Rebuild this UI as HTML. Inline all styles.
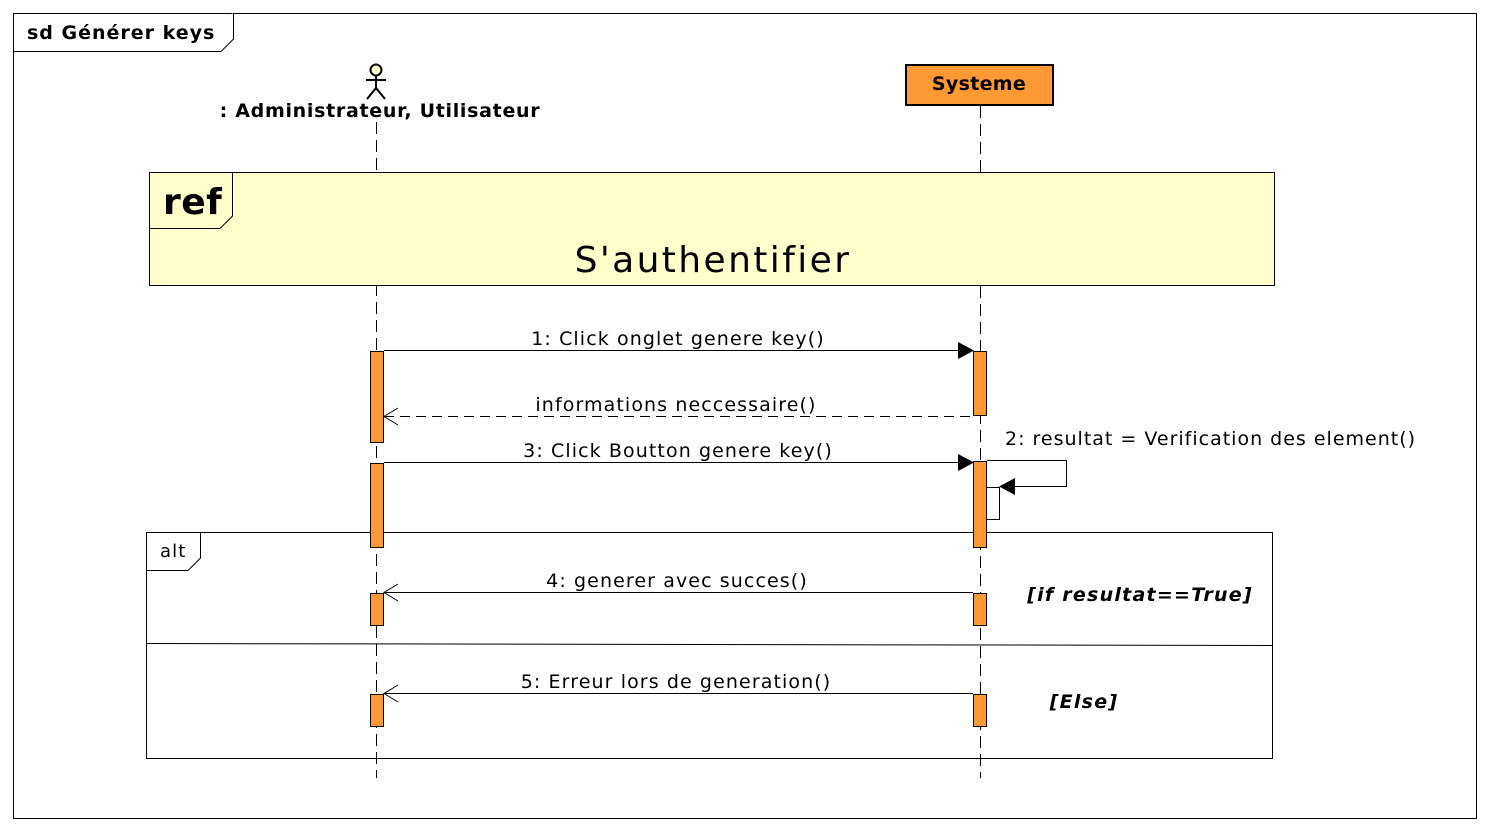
<!DOCTYPE html>
<html><head><meta charset="utf-8"><style>
html,body{margin:0;padding:0;background:#fff}
svg{display:block;font-family:"DejaVu Sans","Liberation Sans",sans-serif}
text{letter-spacing:1.1px}
</style></head><body>
<svg width="1489" height="830" viewBox="0 0 1489 830" xmlns="http://www.w3.org/2000/svg">
<rect x="0" y="0" width="1489" height="830" fill="#fff"/>
<rect x="13.5" y="13.5" width="1463" height="805" fill="none" stroke="#000" stroke-width="1"/>
<path d="M13.5 51.5 H221 L233.5 39 V13.5" fill="#fff" stroke="#000"/>
<text x="27" y="39" font-size="19" font-weight="bold" style="letter-spacing:1px">sd Générer keys</text>
<circle cx="376" cy="70" r="5.5" fill="#ffffcc" stroke="#000" stroke-width="2"/>
<line x1="376" y1="76" x2="376" y2="88" stroke="#000" stroke-width="2"/>
<line x1="366" y1="80" x2="386" y2="80" stroke="#000" stroke-width="2"/>
<line x1="376" y1="88" x2="367" y2="99" stroke="#000" stroke-width="2"/>
<line x1="376" y1="88" x2="385" y2="99" stroke="#000" stroke-width="2"/>
<text x="380" y="117" font-size="19" font-weight="bold" text-anchor="middle" style="letter-spacing:0.7px">: Administrateur, Utilisateur</text>
<rect x="906" y="65" width="147" height="40" fill="#ff9933" stroke="#000" stroke-width="2"/>
<text x="979" y="90" font-size="19" font-weight="bold" text-anchor="middle" style="letter-spacing:0.3px">Systeme</text>
<line x1="376.5" y1="122" x2="376.5" y2="778" stroke="#000" stroke-dasharray="12,6"/>
<line x1="980.5" y1="106" x2="980.5" y2="778" stroke="#000" stroke-dasharray="12,6"/>
<rect x="149.5" y="172.5" width="1125" height="113" fill="#ffffcc" stroke="#000" stroke-width="1"/>
<path d="M149.5 228.5 H220 L232.5 216 V172.5" fill="none" stroke="#000"/>
<text x="163" y="214" font-size="36" font-weight="bold" style="letter-spacing:0.5px">ref</text>
<text x="713" y="272" font-size="36" text-anchor="middle" style="letter-spacing:2.4px">S'authentifier</text>
<rect x="146.5" y="532.5" width="1126" height="226" fill="none" stroke="#000"/>
<path d="M146.5 570.5 H188 L200.5 558 V532.5" fill="#fff" stroke="#000"/>
<text x="160" y="557" font-size="18">alt</text>
<line x1="147" y1="643.5" x2="1272" y2="645.5" stroke="#000"/>
<text x="1140" y="601" font-size="19" font-weight="bold" font-style="italic" text-anchor="middle" style="letter-spacing:1.25px">[if resultat==True]</text>
<text x="1084" y="708" font-size="19" font-weight="bold" font-style="italic" text-anchor="middle" style="letter-spacing:1.25px">[Else]</text>
<g fill="#ff9933" stroke="#000" stroke-width="1">
<rect x="370.5" y="351.5" width="13" height="91"/>
<rect x="973.5" y="351.5" width="13" height="64"/>
<rect x="370.5" y="463.5" width="13" height="84"/>
<rect x="973.5" y="461.5" width="13" height="86"/>
<rect x="370.5" y="593.5" width="13" height="32"/>
<rect x="973.5" y="593.5" width="13" height="32"/>
<rect x="370.5" y="694.5" width="13" height="32"/>
<rect x="973.5" y="694.5" width="13" height="32"/>
</g>
<line x1="384" y1="350.5" x2="960" y2="350.5" stroke="#000"/>
<polygon points="958,342 974,350.5 958,359" fill="#000"/>
<text x="678" y="345" font-size="19" text-anchor="middle">1: Click onglet genere key()</text>
<line x1="384" y1="416.5" x2="973" y2="416.5" stroke="#000" stroke-dasharray="10,6"/>
<polyline points="398,408 384,416.5 398,425" fill="none" stroke="#000"/>
<text x="676" y="411" font-size="19" text-anchor="middle">informations neccessaire()</text>
<line x1="384" y1="462.5" x2="960" y2="462.5" stroke="#000"/>
<polygon points="958,454 974,462.5 958,471" fill="#000"/>
<text x="678" y="457" font-size="19" text-anchor="middle">3: Click Boutton genere key()</text>
<polyline points="987,460.5 1066.5,460.5 1066.5,486.5 1014,486.5" fill="none" stroke="#000"/>
<polygon points="999,486.5 1015,478 1015,495" fill="#000"/>
<rect x="986.5" y="487.5" width="13" height="32" fill="#fff" stroke="#000"/>
<text x="1005" y="445" font-size="19" style="letter-spacing:1px">2: resultat = Verification des element()</text>
<line x1="384" y1="592.5" x2="973" y2="592.5" stroke="#000"/>
<polyline points="398,584 384,592.5 398,601" fill="none" stroke="#000"/>
<text x="677" y="587" font-size="19" text-anchor="middle">4: generer avec succes()</text>
<line x1="384" y1="693.5" x2="973" y2="693.5" stroke="#000"/>
<polyline points="398,685 384,693.5 398,702" fill="none" stroke="#000"/>
<text x="676" y="688" font-size="19" text-anchor="middle">5: Erreur lors de generation()</text>
</svg>
</body></html>
